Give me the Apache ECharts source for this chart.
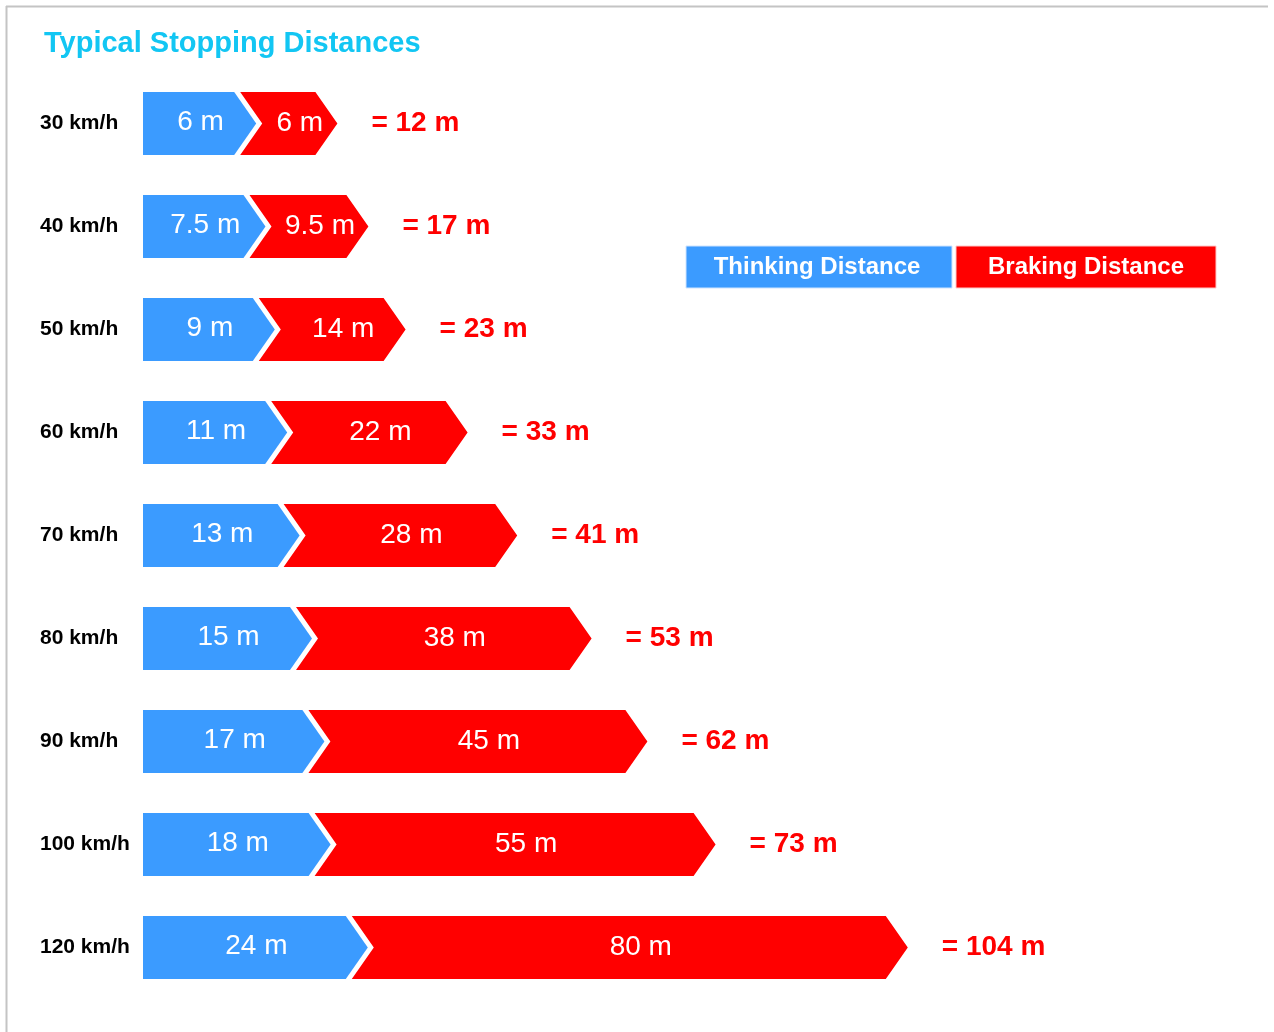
<!DOCTYPE html>
<html>
<head>
<meta charset="utf-8">
<script src="https://cdn.jsdelivr.net/npm/echarts@6/dist/echarts.min.js"></script>
<style>
html,body{margin:0;padding:0;background:#fff;}
#chart{width:1274px;height:1032px;}
</style>
</head>
<body>
<div id="chart"></div>
<script>
// ---- data ----
const speeds = ['30 km/h','40 km/h','50 km/h','60 km/h','70 km/h','80 km/h','90 km/h','100 km/h','120 km/h'];
const thinking = [6, 7.5, 9, 11, 13, 15, 17, 18, 24];
const braking  = [6, 9.5, 14, 22, 28, 38, 45, 55, 80];
const legendNames = ['Thinking Distance', 'Braking Distance'];
const titleText = 'Typical Stopping Distances';

// ---- style ----
const BLUE = '#3b9bff';
const RED = '#ff0000';
const FONT = '"Liberation Sans", Arial, sans-serif';
const PAD_T = 76;   // fixed allowance for thinking segment (label + chevron)
const PAD_B = 44;   // fixed allowance for braking segment
const TIP = 22;     // chevron depth
const GAP = 6;      // white gap between segments

const seriesData = speeds.map((s, i) => [thinking[i], i, braking[i]]);

function fmt(v) { return v + ' m'; }

const chart = echarts.init(document.getElementById('chart'), null, {renderer: 'canvas'});

chart.setOption({
  backgroundColor: '#fff',
  animation: false,
  title: {
    text: titleText,
    left: 44, top: 29, padding: 0,
    textStyle: {color: '#12c6f3', fontSize: 29, fontWeight: 'bold', fontFamily: FONT}
  },
  grid: {left: 143, right: 201, top: 72, bottom: 33},
  xAxis: {type: 'value', min: 0, max: 150, show: false},
  yAxis: {
    type: 'category', data: speeds, inverse: true,
    axisLine: {show: false}, axisTick: {show: false}, splitLine: {show: false},
    axisLabel: {align: 'left', margin: 103, color: '#000', fontSize: 21, fontWeight: 'bold', fontFamily: FONT}
  },
  graphic: [
    {type: 'line', shape: {x1: 6, y1: 6.5, x2: 1268, y2: 6.5}, style: {stroke: '#c4c4c4', lineWidth: 2}},
    {type: 'line', shape: {x1: 6.5, y1: 6, x2: 6.5, y2: 1032}, style: {stroke: '#c4c4c4', lineWidth: 2}},
    {type: 'rect', shape: {x: 686, y: 246, width: 266, height: 42}, style: {fill: BLUE, stroke: '#cfe4ff', lineWidth: 1}},
    {type: 'text', x: 817, y: 267, style: {text: legendNames[0], fill: '#fff', fontSize: 24, fontWeight: 'bold', fontFamily: FONT, align: 'center', verticalAlign: 'middle'}},
    {type: 'rect', shape: {x: 956, y: 246, width: 260, height: 42}, style: {fill: RED, stroke: '#ffc8c8', lineWidth: 1}},
    {type: 'text', x: 1086, y: 267, style: {text: legendNames[1], fill: '#fff', fontSize: 24, fontWeight: 'bold', fontFamily: FONT, align: 'center', verticalAlign: 'middle'}}
  ],
  series: [{
    type: 'custom',
    name: 'Stopping',
    encode: {x: 0, y: 1},
    data: seriesData,
    renderItem: function (params, api) {
      const t = api.value(0), i = api.value(1), b = api.value(2);
      const base = api.coord([0, i]);
      const x0 = base[0], cy = base[1];
      const h = api.size([0, 1])[1] * 0.61;
      const top = cy - h / 2, bot = cy + h / 2;
      const blueTip = api.coord([t, i])[0] + PAD_T;
      const redTip = api.coord([t + b, i])[0] + PAD_T + PAD_B;
      const blueFlat = blueTip - TIP;
      const redFlat = redTip - TIP;
      const notch = blueTip + GAP;
      return {
        type: 'group',
        children: [
          {type: 'polygon', shape: {points: [[x0, top], [blueFlat, top], [blueTip, cy], [blueFlat, bot], [x0, bot]]},
           style: {fill: BLUE}},
          {type: 'polygon', shape: {points: [[blueFlat + GAP, top], [redFlat, top], [redTip, cy], [redFlat, bot], [blueFlat + GAP, bot], [notch, cy]]},
           style: {fill: RED}},
          {type: 'text', x: (x0 + blueTip) / 2 + 1, y: cy - 1,
           style: {text: fmt(t), fill: '#fff', fontSize: 28, fontFamily: FONT, align: 'center', verticalAlign: 'middle'}},
          {type: 'text', x: (notch + redTip) / 2, y: cy,
           style: {text: fmt(b), fill: '#fff', fontSize: 28, fontFamily: FONT, align: 'center', verticalAlign: 'middle'}},
          {type: 'text', x: redTip + 34, y: cy,
           style: {text: '= ' + fmt(t + b), fill: RED, fontSize: 28, fontWeight: 'bold', fontFamily: FONT, align: 'left', verticalAlign: 'middle'}}
        ]
      };
    }
  }]
});
</script>
</body>
</html>
